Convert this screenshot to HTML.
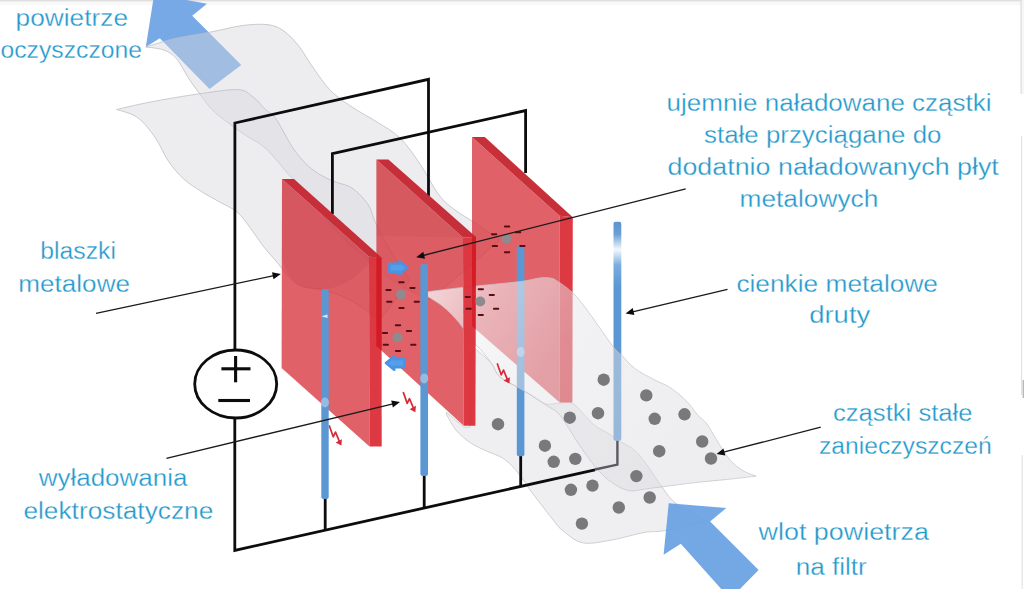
<!DOCTYPE html>
<html lang="pl">
<head>
<meta charset="utf-8">
<title>Filtr elektrostatyczny</title>
<style>
html,body{margin:0;padding:0;background:#fff;}
body{width:1024px;height:589px;overflow:hidden;}
svg{display:block;}
.t{font-family:"Liberation Sans",sans-serif;font-size:23.5px;fill:#2298cc;stroke:#ffffff;stroke-width:0.3px;}
</style>
</head>
<body>
<svg width="1024" height="589" viewBox="0 0 1024 589">
<defs>
  <linearGradient id="w4g" gradientUnits="userSpaceOnUse" x1="0" y1="221" x2="0" y2="441">
    <stop offset="0" stop-color="#5b93cf"/>
    <stop offset="0.06" stop-color="#6aa0d8"/>
    <stop offset="0.13" stop-color="#f4f8fd"/>
    <stop offset="0.2" stop-color="#7aaee0"/>
    <stop offset="0.3" stop-color="#5b97d3"/>
    <stop offset="1" stop-color="#5b97d3"/>
  </linearGradient>
  <linearGradient id="shA" gradientUnits="userSpaceOnUse" x1="420" y1="293" x2="700" y2="470">
    <stop offset="0" stop-color="#fbfbfc" stop-opacity="0.78"/>
    <stop offset="0.2" stop-color="#f0f0f3" stop-opacity="0.58"/>
    <stop offset="0.45" stop-color="#e4e4e8" stop-opacity="0.48"/>
    <stop offset="1" stop-color="#d8d8dd" stop-opacity="0.45"/>
  </linearGradient>
  <g id="neg">
    <circle r="5" fill="#8f8a8e"/>
    <g fill="#5a0c12">
      <rect x="-2.6" y="-13.2" width="6.2" height="2" rx="0.8"/>
      <rect x="8.4" y="-7.6" width="6.2" height="2" rx="0.8"/>
      <rect x="-15.6" y="-5.6" width="6.2" height="2" rx="0.8"/>
      <rect x="-14.8" y="6.3" width="6.2" height="2" rx="0.8"/>
      <rect x="12.7" y="6.3" width="6.2" height="2" rx="0.8"/>
      <rect x="-2.6" y="12.4" width="6.2" height="2" rx="0.8"/>
    </g>
  </g>
  <g id="spark">
    <path d="M-11.6,-19 L-7.8,-8.2 L-5.5,-12.9 L-1.2,-2.6" fill="none" stroke="#d62a36" stroke-width="1.7" stroke-linejoin="round" stroke-linecap="round"/>
    <polygon points="0.4,0.6 -5.4,-2.4 0.9,-5.8" fill="#d62a36"/>
  </g>
</defs>
<rect width="1024" height="589" fill="#ffffff"/>
<rect width="1024" height="5" fill="#f8f8f8"/>
<rect width="1024" height="1.4" fill="#dfdfe0"/>
<rect x="1020.5" y="0" width="1.3" height="94" fill="#dadada"/>
<rect x="1021.8" y="0" width="2.2" height="94" fill="#f6f6f6"/>
<rect x="1021" y="136" width="1.2" height="259" fill="#e2e2e2"/>
<rect x="1021.6" y="455" width="1.2" height="134" fill="#e4e4e4"/>
<rect x="1022.6" y="380" width="1.4" height="18" fill="#b8b8b8"/>
<!-- arrow top-left -->
<polygon points="145.8,47.1 154.2,-6 207,3.8 192.2,15.8 241.3,65 209.5,89.1 159.8,38.2" fill="#76a9e6"/>
<!-- upper-left air ribbons -->
<path d="M145.8,47.0 C150.7,45.6 164.0,41.0 175.0,38.5 C186.0,36.0 200.7,34.0 212.0,31.8 C223.3,29.6 233.3,26.7 242.6,25.5 C251.9,24.3 261.2,23.8 268.0,24.7 C274.8,25.6 278.2,27.1 283.3,30.6 C288.4,34.1 293.5,39.4 298.6,45.8 C303.7,52.2 308.8,61.6 313.9,68.8 C319.0,76.0 324.1,83.6 329.2,89.1 C334.3,94.6 339.4,98.1 344.5,101.9 C349.6,105.7 354.6,108.7 360.0,112.0 C365.4,115.3 370.3,117.7 377.0,122.0 C383.7,126.3 392.8,131.0 400.0,138.0 C407.2,145.0 413.5,154.5 420.0,164.0 C426.5,173.5 433.2,187.3 439.0,195.0 C444.8,202.7 449.5,205.7 455.0,210.0 C460.5,214.3 464.5,216.0 472.0,221.0 C479.5,226.0 495.3,236.8 500.0,240.0 L430.0,300.0 C425.0,297.5 410.0,291.3 400.0,285.0 C390.0,278.7 380.0,270.3 370.0,262.0 C360.0,253.7 349.2,244.5 340.0,235.0 C330.8,225.5 322.4,213.9 315.0,205.0 C307.6,196.1 300.0,186.5 295.5,181.3 C291.0,176.1 291.3,177.5 287.9,173.7 C284.5,169.9 279.4,163.1 275.1,158.4 C270.9,153.7 267.4,149.5 262.4,145.6 C257.4,141.7 251.0,138.9 245.2,135.0 C239.3,131.1 232.8,126.5 227.3,122.2 C221.8,118.0 216.2,113.7 212.0,109.5 C207.8,105.3 205.7,101.9 201.9,96.8 C198.1,91.7 193.3,85.4 189.1,79.0 C184.8,72.6 180.6,63.4 176.4,58.6 C172.2,53.8 168.8,51.9 163.7,50.0 C158.6,48.1 148.8,47.5 145.8,47.0 Z" fill="#d8d8de" fill-opacity="0.45" stroke="#bcbcc2" stroke-opacity="0.85" stroke-width="0.9"/>
<path d="M116.6,109.5 C122.3,108.2 137.5,104.5 150.9,101.9 C164.3,99.4 182.4,96.2 196.8,94.2 C211.2,92.2 228.2,89.2 237.5,89.6 C246.8,90.0 248.1,93.5 252.8,96.8 C257.5,100.1 261.8,106.0 265.5,109.5 C269.2,113.0 272.2,114.1 275.1,117.6 C278.0,121.1 279.8,125.3 282.8,130.4 C285.8,135.5 289.2,142.7 293.0,148.2 C296.8,153.7 301.5,159.2 305.7,163.5 C309.9,167.8 313.7,170.7 318.4,173.7 C323.1,176.7 328.6,179.2 333.7,181.3 C338.8,183.4 344.8,184.3 349.0,186.4 C353.2,188.5 355.8,190.6 359.2,194.0 C362.6,197.4 366.6,201.8 369.4,206.8 C372.2,211.8 372.6,216.8 376.0,224.0 C379.4,231.2 384.3,240.7 390.0,250.0 C395.7,259.3 406.7,275.0 410.0,280.0 L380.0,320.0 C375.0,316.7 359.3,305.0 350.0,300.0 C340.7,295.0 332.8,292.7 324.0,290.0 C315.2,287.3 305.1,289.0 297.0,284.0 C288.9,279.0 280.9,266.5 275.1,260.0 C269.3,253.5 266.6,250.5 262.4,245.0 C258.2,239.5 253.9,232.6 249.7,227.1 C245.5,221.6 242.1,216.1 237.0,211.9 C231.9,207.7 225.0,205.1 219.1,201.7 C213.2,198.3 207.2,195.3 201.3,191.5 C195.4,187.7 189.0,183.9 183.5,178.8 C178.0,173.7 172.9,167.7 168.2,160.9 C163.5,154.1 160.6,145.2 155.5,138.0 C150.4,130.8 144.1,122.3 137.6,117.6 C131.1,112.8 120.1,110.8 116.6,109.5 Z" fill="#d8d8de" fill-opacity="0.45" stroke="#bcbcc2" stroke-opacity="0.85" stroke-width="0.9"/>
<!-- wire frames -->
<g fill="none" stroke="#0c0c0e" stroke-width="2.8" stroke-linejoin="miter">
  <path d="M234.9,349 L234.9,123 L428.5,79.3 L428.5,196"/>
  <path d="M332.4,214 L332.4,153.7 L525.6,110.6 L525.6,173"/>
</g>
<ellipse cx="235.7" cy="384" rx="41" ry="34" fill="#ffffff" stroke="#0c0c0e" stroke-width="2.8"/>
<g stroke="#0c0c0e" stroke-width="3.1" fill="none">
  <path d="M221.4,368.8 H250.5"/>
  <path d="M235.6,356 V382.3"/>
  <path d="M218.3,400.5 H250"/>
</g>
<!-- plates -->
<g>
  <!-- plate 2 front -->
  <polygon points="376.4,159.5 463,237.5 463.7,425.7 376.4,346" fill="#d8353d" fill-opacity="0.78"/>
  <polygon points="376.4,159.5 463,237.5 376.4,236" fill="#7a1018" fill-opacity="0.05"/>
  <!-- plate 1 -->
  <polygon points="282,179 369,256.7 369.5,446.6 281.6,368" fill="#d8353d" fill-opacity="0.78"/>
  <path d="M282,179 L369,256.7 L369,263 C362,272 352,280 338,286 C322,292 306,290 297,284 C290,279 285,268 282,259.7 Z" fill="#7a1018" fill-opacity="0.07"/>
  <polygon points="282,179 294,179 381.5,257.5 369,256.7" fill="#c4252e" fill-opacity="0.95"/>
  <polygon points="369,256.7 381.5,257.5 381.7,446.6 369.5,446.6" fill="#d9232d" fill-opacity="0.9"/>
  <polygon points="376.4,257.2 381.5,257.5 381.7,350.6 376.4,346" fill="#cf0f18" fill-opacity="0.55"/>
</g>
<!-- lower-right air ribbon (back) -->
<path d="M446.5,412.2 L463.7,427.0 L470.0,427.0 L470.0,352.0 L476.6,349.7 C479.1,352.0 487.6,358.8 491.5,363.3 C495.4,367.8 495.2,372.7 499.7,376.8 C504.2,380.9 513.3,384.5 518.7,387.7 C524.1,390.9 527.8,393.2 532.3,395.9 C536.8,398.6 541.3,402.8 545.9,404.0 C550.5,405.2 555.5,403.1 560.0,403.0 C564.5,402.9 568.7,401.3 573.0,403.6 C577.3,405.9 582.3,413.0 586.0,416.7 C589.7,420.4 591.6,423.2 595.3,426.0 C599.0,428.8 604.3,431.0 608.4,433.5 C612.5,436.0 615.2,438.2 619.6,441.0 C624.0,443.8 630.2,446.6 634.6,450.3 C639.0,454.0 642.1,458.4 645.8,463.4 C649.5,468.3 654.4,476.2 657.0,480.0 C659.6,483.8 658.8,482.6 661.4,486.0 C664.0,489.4 667.8,496.2 672.4,500.4 C677.0,504.6 683.2,507.5 689.0,511.0 C694.8,514.5 704.0,519.8 707.0,521.5 L707.0,521.5 C699.9,523.0 675.1,528.8 664.6,530.6 C654.1,532.4 652.8,530.9 644.0,532.5 C635.2,534.1 622.0,538.3 611.8,540.0 C601.5,541.7 590.8,544.5 582.5,542.8 C574.2,541.1 566.9,533.8 562.0,530.0 C557.1,526.2 556.9,524.5 553.2,520.0 C549.5,515.5 543.9,508.0 540.0,503.0 C536.1,498.0 533.0,494.2 530.0,490.0 C527.0,485.8 524.9,481.8 521.8,477.7 C518.7,473.6 515.0,468.9 511.6,465.5 C508.2,462.1 505.6,459.8 501.5,457.4 C497.4,455.0 492.3,453.7 487.2,451.3 C482.1,448.9 476.0,446.5 470.9,443.1 C465.8,439.7 460.8,435.6 456.7,430.9 C452.6,426.1 448.2,417.3 446.5,414.6 Z" fill="#d6d6dc" fill-opacity="0.4" stroke="#c0c0c6" stroke-opacity="0.8" stroke-width="0.9"/>
<g fill="none" stroke="#0c0c0e" stroke-width="2.8" stroke-linejoin="miter">
  <path d="M234.8,419 L234.8,550.4 L595,469.8"/>
  <path d="M325.2,498 L325.2,530"/>
  <path d="M424.2,476 L424.2,508"/>
  <path d="M520.7,456 L520.7,486"/>
</g>
<g>
  <!-- plate 3 -->
  <polygon points="472,137 559.5,215.7 559.7,402.6 472,326" fill="#d8353d" fill-opacity="0.78"/>
  <polygon points="472,137 484.8,137 572.8,217.2 559.5,215.7" fill="#c4252e" fill-opacity="0.95"/>
  <polygon points="559.5,215.7 572.8,217.2 572.4,402.6 559.7,402.6" fill="#d9232d" fill-opacity="0.9"/>
</g>
<!-- thin wires (behind ribbon) -->
<g>
  <rect x="321.3" y="289" width="7.4" height="210" rx="2" fill="#5b97d3"/>
  <polygon points="321.4,316.2 327.5,314.6 327.5,318" fill="#dfeaf7"/>
  <ellipse cx="325" cy="402.5" rx="4" ry="5" fill="#ffffff" fill-opacity="0.35"/>
  <rect x="516.8" y="245.3" width="7.6" height="211" rx="2" fill="#5b97d3"/>
  <rect x="613.5" y="221.8" width="7.8" height="219" rx="2" fill="url(#w4g)"/>
</g>
<!-- lower-right air ribbon (front) -->
<path d="M420.9,292.6 C428.1,291.7 448.0,289.0 464.3,287.2 C480.6,285.4 506.1,283.2 518.7,281.7 C531.3,280.1 534.8,278.5 540.0,277.9 C545.2,277.3 547.3,277.6 550.0,278.0 C552.7,278.4 552.5,278.0 556.3,280.4 C560.1,282.8 567.6,287.9 572.6,292.6 C577.6,297.4 581.7,303.0 586.2,308.9 C590.7,314.8 595.3,321.5 599.8,327.9 C604.3,334.2 609.8,342.5 613.4,347.0 C617.0,351.5 617.9,351.5 621.5,355.1 C625.1,358.7 629.7,364.6 635.1,368.7 C640.5,372.8 648.2,376.4 654.1,379.6 C660.0,382.8 665.0,384.1 670.4,387.7 C675.8,391.3 682.2,396.8 686.7,401.3 C691.2,405.8 694.2,411.1 697.6,414.9 C701.0,418.7 703.9,419.9 707.0,424.0 C710.1,428.1 712.7,433.8 716.5,439.7 C720.3,445.6 725.4,454.5 729.8,459.6 C734.2,464.8 738.6,467.9 743.0,470.6 C747.4,473.4 754.0,475.2 756.2,476.1 L756.2,476.1 C751.4,476.7 737.9,478.3 727.6,479.4 C717.3,480.5 707.4,481.2 694.5,482.7 C681.6,484.2 661.3,487.0 650.3,488.3 C639.3,489.6 634.9,491.6 628.3,490.5 C621.7,489.4 615.5,484.9 610.6,481.6 C605.7,478.4 602.4,474.6 599.0,471.0 C595.6,467.4 593.3,464.4 590.0,460.0 C586.7,455.6 582.8,450.2 579.0,444.5 C575.2,438.8 570.8,431.2 567.3,426.0 C563.8,420.8 561.6,416.5 558.0,413.0 C554.4,409.5 550.2,407.9 545.9,405.0 C541.6,402.1 536.8,398.8 532.3,395.9 C527.8,393.0 524.1,390.9 518.7,387.7 C513.3,384.5 504.2,380.9 499.7,376.8 C495.2,372.7 494.7,367.8 491.5,363.3 C488.3,358.8 484.3,353.8 480.7,349.7 C477.1,345.6 473.4,343.3 469.8,338.8 C466.2,334.3 463.4,327.9 458.9,322.5 C454.4,317.1 448.9,311.2 442.6,306.2 C436.3,301.2 424.5,294.9 420.9,292.6 Z" fill="url(#shA)" stroke="#c0c4ca" stroke-opacity="0.8" stroke-width="0.9"/>
<!-- plate 2 top + end faces drawn over ribbon -->
<polygon points="376.4,159.5 388.4,159.5 476,237 463,237.5" fill="#c4252e" fill-opacity="0.95"/>
<polygon points="463,237.5 476,237 475.4,425.7 463.7,425.7" fill="#d9232d" fill-opacity="0.9"/>
<polygon points="472,237.2 476,237 475.6,329.5 472,326" fill="#cf0f18" fill-opacity="0.5"/>
<ellipse cx="520.7" cy="352" rx="4" ry="5" fill="#ffffff" fill-opacity="0.3"/>
<path d="M595,469.5 L617.4,464.6 L617.4,440.8" fill="none" stroke="#5a5a5f" stroke-width="2.4"/>
<rect x="420.4" y="264" width="7.6" height="212" rx="2.5" fill="#5b97d3"/>
<ellipse cx="424.2" cy="378.4" rx="4" ry="5" fill="#ffffff" fill-opacity="0.35"/>
<!-- charged particles -->
<use href="#neg" x="401" y="294.5"/>
<use href="#neg" x="397.5" y="337.5"/>
<use href="#neg" x="480.3" y="301.5"/>
<use href="#neg" x="506.6" y="238.8"/>
<!-- small blue arrows -->
<polygon points="389.4,263.8 399.4,263.8 399.4,261.4 407.4,267.8 399.4,274.2 399.4,271.8 389.4,271.8" fill="#559ee9" stroke="#4b93e2" stroke-width="2.6" stroke-linejoin="round"/>
<polygon points="404.4,359.1 394.2,359.1 394.2,356.5 386,363.1 394.2,369.7 394.2,367.1 404.4,367.1" fill="#559ee9" stroke="#4b93e2" stroke-width="2.6" stroke-linejoin="round"/>
<!-- pollutant particles -->
<g fill="#79797b">
  <circle cx="603.7" cy="379.7" r="6.2"/>
  <circle cx="646.3" cy="395.4" r="6.2"/>
  <circle cx="569.8" cy="417.7" r="6.2"/>
  <circle cx="598.0" cy="413.2" r="6.2"/>
  <circle cx="654.7" cy="418.8" r="6.2"/>
  <circle cx="684.5" cy="414.3" r="6.2"/>
  <circle cx="702.2" cy="441.5" r="6.2"/>
  <circle cx="711.0" cy="458.5" r="6.2"/>
  <circle cx="659.2" cy="451.2" r="6.2"/>
  <circle cx="544.9" cy="445.7" r="6.2"/>
  <circle cx="553.7" cy="461.8" r="6.2"/>
  <circle cx="575.3" cy="458.9" r="6.2"/>
  <circle cx="636.4" cy="476.1" r="6.2"/>
  <circle cx="570.9" cy="489.8" r="6.2"/>
  <circle cx="592.5" cy="485.6" r="6.2"/>
  <circle cx="649.7" cy="497.5" r="6.2"/>
  <circle cx="618.8" cy="507.5" r="6.2"/>
  <circle cx="581.9" cy="523.6" r="6.2"/>
  <circle cx="498.0" cy="424.2" r="6.2"/>
</g>
<!-- electrostatic discharges -->
<use href="#spark" x="341" y="445"/>
<use href="#spark" x="415" y="411.6"/>
<use href="#spark" x="509" y="383"/>
<!-- arrow bottom-right -->
<polygon points="668.7,503.3 726.3,508 710.1,521.5 758.6,570 738,591 723,591 680.8,543.7 663.6,554.8" fill="#68a1e3" fill-opacity="0.93"/>
<!-- leader lines -->
<g>
  <path d="M96.0,313.3 L273.8,275.6" fill="none" stroke="#1a1a1c" stroke-width="1.3"/>
  <polygon points="280.8,274.1 273.5,279.3 272.0,272.3" fill="#0c0c0e"/>
  <path d="M166.4,458.3 L393.0,403.8" fill="none" stroke="#1a1a1c" stroke-width="1.3"/>
  <polygon points="400.0,402.1 392.9,407.5 391.2,400.5" fill="#0c0c0e"/>
  <path d="M685.7,188.8 L423.2,255.5" fill="none" stroke="#1a1a1c" stroke-width="1.3"/>
  <polygon points="416.2,257.3 423.3,251.8 425.0,258.8" fill="#0c0c0e"/>
  <path d="M727.5,289.3 L632.6,311.8" fill="none" stroke="#1a1a1c" stroke-width="1.3"/>
  <polygon points="625.6,313.5 632.7,308.1 634.4,315.1" fill="#0c0c0e"/>
  <path d="M820.7,427.2 L723.5,452.2" fill="none" stroke="#1a1a1c" stroke-width="1.3"/>
  <polygon points="716.5,454.0 723.5,448.5 725.3,455.4" fill="#0c0c0e"/>
</g>
<!-- labels -->
<text class="t" x="15.6" y="25.8" textLength="112.4" lengthAdjust="spacingAndGlyphs">powietrze</text>
<text class="t" x="0.5" y="58.2" textLength="141.5" lengthAdjust="spacingAndGlyphs">oczyszczone</text>
<text class="t" x="666.6" y="110.6" textLength="324.9" lengthAdjust="spacingAndGlyphs">ujemnie naładowane cząstki</text>
<text class="t" x="704.0" y="143.2" textLength="237.5" lengthAdjust="spacingAndGlyphs">stałe przyciągane do</text>
<text class="t" x="667.5" y="175.4" textLength="331.3" lengthAdjust="spacingAndGlyphs">dodatnio naładowanych płyt</text>
<text class="t" x="739.5" y="207.0" textLength="138.8" lengthAdjust="spacingAndGlyphs">metalowych</text>
<text class="t" x="40.3" y="259.4" textLength="75.7" lengthAdjust="spacingAndGlyphs">blaszki</text>
<text class="t" x="18.3" y="291.5" textLength="111.7" lengthAdjust="spacingAndGlyphs">metalowe</text>
<text class="t" x="38.7" y="486.4" textLength="148.8" lengthAdjust="spacingAndGlyphs">wyładowania</text>
<text class="t" x="23.4" y="518.5" textLength="189.9" lengthAdjust="spacingAndGlyphs">elektrostatyczne</text>
<text class="t" x="736.4" y="291.6" textLength="201.6" lengthAdjust="spacingAndGlyphs">cienkie metalowe</text>
<text class="t" x="809.2" y="323.3" textLength="61.1" lengthAdjust="spacingAndGlyphs">druty</text>
<text class="t" x="833.0" y="420.8" textLength="139.5" lengthAdjust="spacingAndGlyphs">cząstki stałe</text>
<text class="t" x="818.9" y="453.8" textLength="172.8" lengthAdjust="spacingAndGlyphs">zanieczyszczeń</text>
<text class="t" x="758.6" y="539.7" textLength="170.3" lengthAdjust="spacingAndGlyphs">wlot powietrza</text>
<text class="t" x="795.8" y="574.5" textLength="71.0" lengthAdjust="spacingAndGlyphs">na filtr</text>
</svg>
</body>
</html>
